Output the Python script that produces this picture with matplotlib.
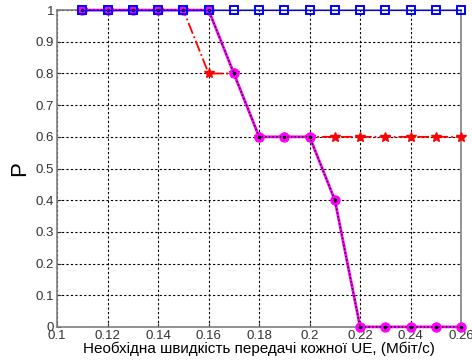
import matplotlib
matplotlib.use('Agg')
import matplotlib.pyplot as plt
import numpy as np

plt.rcParams['font.family'] = ['Liberation Sans', 'DejaVu Sans']

rate = [0.11, 0.12, 0.13, 0.14, 0.15, 0.16, 0.17, 0.18, 0.19, 0.20, 0.21, 0.22, 0.23, 0.24, 0.25, 0.26]
p_blue = [1, 1, 1, 1, 1, 1, 1, 1, 1, 1, 1, 1, 1, 1, 1, 1]
p_red = [1, 1, 1, 1, 1, 0.8, 0.8, 0.6, 0.6, 0.6, 0.6, 0.6, 0.6, 0.6, 0.6, 0.6]
p_mag = [1, 1, 1, 1, 1, 1, 0.8, 0.6, 0.6, 0.6, 0.4, 0, 0, 0, 0, 0]

xticks = [0.1, 0.12, 0.14, 0.16, 0.18, 0.2, 0.22, 0.24, 0.26]
xticklabels = ['0.1', '0.12', '0.14', '0.16', '0.18', '0.2', '0.22', '0.24', '0.26']
yticks = [0, 0.1, 0.2, 0.3, 0.4, 0.5, 0.6, 0.7, 0.8, 0.9, 1]
yticklabels = ['0', '0.1', '0.2', '0.3', '0.4', '0.5', '0.6', '0.7', '0.8', '0.9', '1']

fig = plt.figure(figsize=(4.72, 3.62), dpi=100)
ax = fig.add_axes([0.121, 0.097, 0.856, 0.875])

# red dash-dot with stars
ax.plot(rate, p_red, '-.', color='#ff0000', lw=1.3, marker='*', ms=7,
        mfc='#ff0000', mec='#ff0000', zorder=3, clip_on=False)
# magenta curve with black dotted overlay
ax.plot(rate, p_mag, '-', color='#ff00ff', lw=2, marker='o', ms=6.5,
        mfc='#ff00ff', mec='#ff00ff', zorder=4, clip_on=False)
ax.plot(rate, p_mag, ':', color='#000000', lw=1, marker='.', ms=3,
        zorder=5, clip_on=False)
# blue squares on top
ax.plot(rate, p_blue, '-', color='#0000ff', lw=0.8, marker='s', ms=6,
        mfc='none', mec='#0000ff', mew=1.4, zorder=6, clip_on=False)

ax.set_xlim(0.1, 0.26)
ax.set_ylim(0, 1)
ax.set_xticks(xticks)
ax.set_xticklabels(xticklabels)
ax.set_yticks(yticks)
ax.set_yticklabels(yticklabels)
ax.tick_params(direction='in', length=3, labelsize=9.5, colors='#333333', pad=2)
ax.grid(True, linestyle=(0, (2, 2)), color='#000000', lw=0.8)
for s in ax.spines.values():
    s.set_color('#808080')
    s.set_linewidth(1.2)

ax.set_xlabel('Необхідна швидкість передачі кожної UE, (Мбіт/с)', fontsize=11, labelpad=0)
ax.set_ylabel('P', fontsize=16, labelpad=4)

fig.savefig('out.png', dpi=100)
